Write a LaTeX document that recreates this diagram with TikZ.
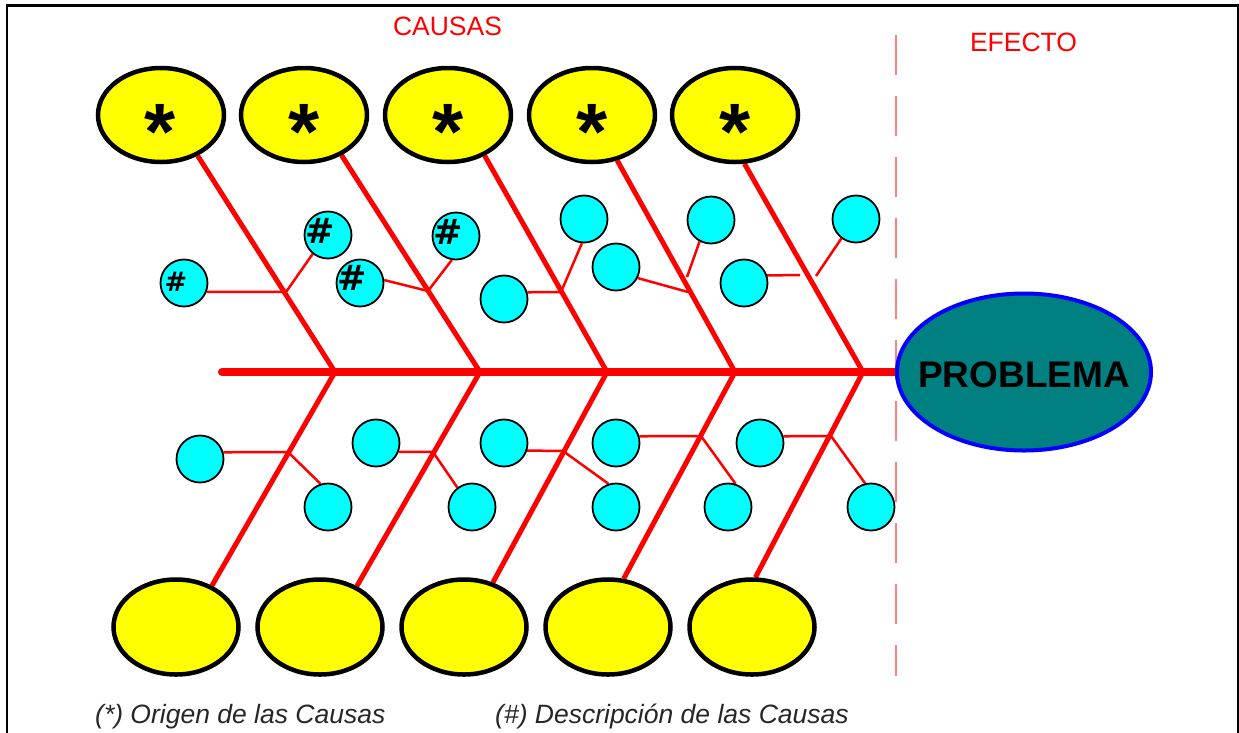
\documentclass[tikz,border=0pt]{standalone}
\usepackage{fontspec}
\setmainfont{Liberation Sans}
\newfontfamily\hashfont{DejaVu Sans}
\usetikzlibrary{shapes.geometric,backgrounds,calc}
\definecolor{cyanfill}{RGB}{0,255,255}
\definecolor{yellowfill}{RGB}{255,255,0}
\definecolor{tealfill}{RGB}{0,128,128}
\definecolor{pinkline}{RGB}{255,128,128}
\definecolor{bonered}{RGB}{255,0,0}
\begin{document}
\begin{tikzpicture}[x=1pt,y=-1pt,
  topcause/.style={ellipse,draw=black,line width=4.5pt,fill=yellowfill,minimum width=126pt,minimum height=94pt,inner sep=0pt},
  botcause/.style={ellipse,draw=black,line width=4.5pt,fill=yellowfill,minimum width=125pt,minimum height=95pt,inner sep=0pt},
  subcause/.style={circle,draw=black,line width=1.8pt,fill=cyanfill,minimum size=47pt,inner sep=0pt},
  probnode/.style={ellipse,draw=blue,line width=4pt,fill=tealfill,minimum width=254pt,minimum height=157pt,inner sep=0pt},
  probtext/.style={font=\fontsize{37}{40}\selectfont\bfseries,text=black,inner sep=0pt},
  startext/.style={font=\fontsize{80}{84}\selectfont\bfseries,text=black,inner sep=0pt,anchor=base},
  hashbig/.style={font=\hashfont\fontsize{35}{38}\selectfont\bfseries,text=black,inner sep=0pt},
  hashsmall/.style={font=\hashfont\fontsize{27}{30}\selectfont\bfseries,text=black,inner sep=0pt},
  headtext/.style={font=\fontsize{26.5}{30}\selectfont,text=bonered,inner sep=0pt},
  notetext/.style={font=\fontsize{26.5}{30}\selectfont\itshape,text=black!85,inner sep=0pt,anchor=base west},
  spine/.style={draw=bonered,line width=8pt,line cap=round},
  bone/.style={draw=bonered,line width=5pt},
  twig/.style={draw=bonered,line width=2.5pt},
  divider/.style={draw=pinkline,line width=2pt,dash pattern=on 40pt off 21pt}
]
\useasboundingbox (0,0) rectangle (1239,732);
\draw[line width=2.5pt,black] (7,740) -- (7,5.5) -- (1238,5.5) -- (1238,740);

% headings
\node[headtext] (causas) at (447.5,26.5) {CAUSAS};
\node[headtext] (efecto) at (1023.5,42.5) {EFECTO};

% top cause ellipses
\node[topcause] (t1) at (161,115) {};
\node[topcause] (t2) at (304,115) {};
\node[topcause] (t3) at (448,115) {};
\node[topcause] (t4) at (592,115) {};
\node[topcause] (t5) at (735,115) {};
\node[startext] (s1) at (160,159) {*};
\node[startext] (s2) at (304,159) {*};
\node[startext] (s3) at (448,159) {*};
\node[startext] (s4) at (592,159) {*};
\node[startext] (s5) at (735,159) {*};

% bottom cause ellipses
\node[botcause] (b1) at (176,627) {};
\node[botcause] (b2) at (320,627) {};
\node[botcause] (b3) at (464,627) {};
\node[botcause] (b4) at (608,627) {};
\node[botcause] (b5) at (752,627) {};

% problem
\node[probnode] (pr) at (1024,372) {};
\node[probtext] (prt) at (1024,375) {PROBLEMA};

% top sub-causes
\node[subcause] (c1) at (184,283) {};
\node[subcause] (c2) at (328,235) {};
\node[subcause] (c3) at (360,283) {};
\node[subcause] (c4) at (456,236) {};
\node[subcause] (c5) at (504,299) {};
\node[subcause] (c6) at (584,219) {};
\node[subcause] (c7) at (616,267) {};
\node[subcause] (c8) at (711,220) {};
\node[subcause] (c9) at (744,283) {};
\node[subcause] (c10) at (856,219) {};
\node[hashsmall] (h1) at (176,282) {\#};
\node[hashbig] (h2) at (320,231) {\#};
\node[hashbig] (h3) at (352,278) {\#};
\node[hashbig] (h4) at (448,232) {\#};

% bottom sub-causes
\node[subcause] (d1) at (200,459) {};
\node[subcause] (d2) at (328,507) {};
\node[subcause] (d3) at (376,443) {};
\node[subcause] (d4) at (472,507) {};
\node[subcause] (d5) at (504,443) {};
\node[subcause] (d6) at (616,507) {};
\node[subcause] (d7) at (616,443) {};
\node[subcause] (d8) at (728,507) {};
\node[subcause] (d9) at (760,443) {};
\node[subcause] (d10) at (871,507) {};

% notes
\node[notetext] (n1) at (95,723) {(*) Origen de las Causas};
\node[notetext] (n2) at (495,723) {(\#) Descripción de las Causas};

% coordinates
\coordinate (sp) at (222,372);
\coordinate (j1) at (335,372);
\coordinate (j2) at (480,372);
\coordinate (j3) at (607,372);
\coordinate (j4) at (735,372);
\coordinate (j5) at (863,372);
\coordinate (dv1) at (896,35);
\coordinate (dv2) at (896,676);
\coordinate (k1) at (286,292);
\coordinate (k2) at (428,291);
\coordinate (k3) at (561,292);
\coordinate (k4) at (688,292);
\coordinate (k4b) at (687,277);
\coordinate (k5a) at (800,275);
\coordinate (k5b) at (816,276);
\coordinate (m1) at (288,452);
\coordinate (m2) at (433,452);
\coordinate (m3) at (563,451);
\coordinate (m4) at (701,436);
\coordinate (m5) at (831,436);

\begin{scope}[on background layer]
  \draw[divider] (dv1) -- (dv2);
  \draw[spine] (sp) -- (pr.center);
  \draw[bone] (t1.-48) -- (j1);
  \draw[bone] (t2.-47) -- (j2);
  \draw[bone] (t3.-48) -- (j3);
  \draw[bone] (t4.-61) -- (j4);
  \draw[bone] (t5.-79) -- (j5);
  \draw[bone] (b1.49) -- (j1);
  \draw[bone] (b2.48) -- (j2);
  \draw[bone] (b3.57) -- (j3);
  \draw[bone] (b4.72) -- (j4);
  \draw[bone] (b5.86) -- (j5);
  % top twigs
  \draw[twig] (c1.-21) -- (k1) -- (c2.-129);
  \draw[twig] (c3.7) -- (k2) -- (c4.-100);
  \draw[twig] (c5.16) -- (k3) -- (c6.-95);
  \draw[twig] (c7.-27) -- (k4);
  \draw[twig] (k4b) -- (c8.-118);
  \draw[twig] (c9.18) -- (k5a);
  \draw[twig] (k5b) -- (c10.-127);
  % bottom twigs
  \draw[twig] (d1.16) -- (m1) -- (d2.108);
  \draw[twig] (d3.-21) -- (m2) -- (d4.127);
  \draw[twig] (d5.-18) -- (m3) -- (d6.108);
  \draw[twig] (d7.16) -- (m4) -- (d8.72);
  \draw[twig] (d9.16) -- (m5) -- (d10.104);
\end{scope}
\end{tikzpicture}
\end{document}
